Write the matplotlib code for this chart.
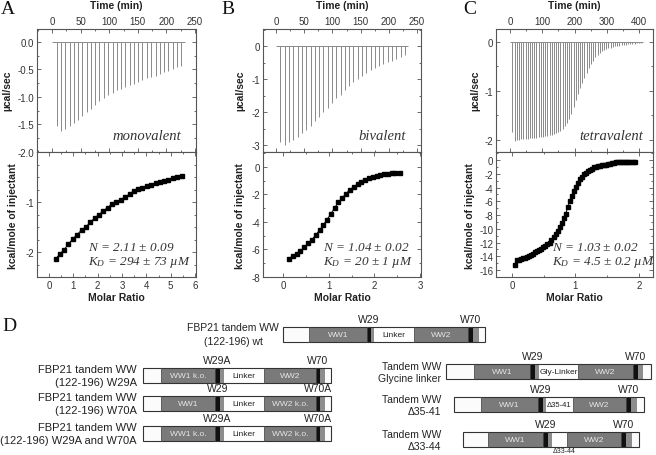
import matplotlib
matplotlib.use('Agg')
import matplotlib.pyplot as plt
from matplotlib.patches import Rectangle
from matplotlib.ticker import MultipleLocator, FormatStrFormatter, FixedLocator

plt.rcParams['font.family'] = ['Liberation Sans', 'DejaVu Sans']
plt.rcParams['axes.unicode_minus'] = False
plt.rcParams['mathtext.fontset'] = 'custom'
plt.rcParams['mathtext.it'] = 'Liberation Serif:italic'
plt.rcParams['mathtext.rm'] = 'Liberation Serif:italic'

# ---------------- data ----------------
a_time = [8, 16, 23, 31, 38, 46, 53, 61, 68, 76, 83, 91, 98, 106, 113, 121, 128, 136, 143, 151,
          158, 166, 173, 181, 188, 196, 203, 211, 218, 226]
a_peak = [-1.52, -1.62, -1.58, -1.53, -1.47, -1.41, -1.35, -1.28, -1.21, -1.14, -1.07, -1.02, -0.97,
          -0.92, -0.88, -0.85, -0.82, -0.79, -0.76, -0.73, -0.70, -0.66, -0.63, -0.61, -0.58, -0.55,
          -0.52, -0.49, -0.46, -0.43]
a_ratio = [0.27, 0.45, 0.63, 0.80, 0.98, 1.16, 1.34, 1.52, 1.70, 1.88, 2.06, 2.23, 2.41, 2.59, 2.77,
           2.95, 3.13, 3.31, 3.48, 3.66, 3.84, 4.02, 4.20, 4.38, 4.56, 4.73, 4.91, 5.09, 5.27, 5.45]
a_heat = [-2.14, -2.04, -1.95, -1.84, -1.74, -1.65, -1.56, -1.50, -1.40, -1.32, -1.25, -1.18, -1.11,
          -1.04, -1.00, -0.95, -0.90, -0.84, -0.78, -0.74, -0.71, -0.68, -0.66, -0.62, -0.60, -0.58,
          -0.55, -0.52, -0.50, -0.47]

b_time = [8.0, 15.6, 23.2, 30.8, 38.4, 46.0, 53.6, 61.2, 68.8, 76.4, 84.0, 91.6, 99.2, 106.8, 114.4,
          122.0, 129.6, 137.2, 144.8, 152.4, 160.0, 167.6, 175.2, 182.8, 190.4, 198.0, 205.6, 213.2,
          220.8, 228.4]
b_peak = [-2.90, -3.00, -2.92, -2.84, -2.74, -2.64, -2.54, -2.42, -2.28, -2.15, -2.00, -1.87, -1.72,
          -1.58, -1.48, -1.34, -1.22, -1.10, -0.99, -0.90, -0.82, -0.73, -0.66, -0.60, -0.54, -0.49,
          -0.44, -0.39, -0.33, -0.28]
b_ratio = [0.13, 0.21, 0.30, 0.38, 0.46, 0.55, 0.63, 0.71, 0.80, 0.88, 0.96, 1.05, 1.13, 1.21, 1.30,
           1.38, 1.46, 1.55, 1.63, 1.71, 1.80, 1.88, 1.96, 2.05, 2.13, 2.21, 2.30, 2.38, 2.46, 2.55]
b_heat = [-6.66, -6.48, -6.31, -6.09, -5.84, -5.56, -5.28, -4.96, -4.59, -4.23, -3.83, -3.39, -2.97,
          -2.57, -2.23, -1.93, -1.66, -1.45, -1.25, -1.07, -0.92, -0.80, -0.70, -0.62, -0.56, -0.51,
          -0.48, -0.45, -0.43, -0.41]

c_time = [8.0, 14.8, 21.5, 28.3, 35.0, 41.8, 48.5, 55.3, 62.0, 68.8, 75.5, 82.3, 89.0, 95.8, 102.5,
          109.3, 116.0, 122.8, 129.5, 136.3, 143.0, 149.8, 156.5, 163.3, 170.0, 176.8, 183.5, 190.3,
          197.0, 203.8, 210.5, 217.3, 224.0, 230.8, 237.5, 244.3, 251.0, 257.8, 264.5, 271.3, 278.0,
          284.8, 291.5, 298.3, 305.0, 311.8, 318.5, 325.3, 332.0, 338.8, 345.5, 352.3, 359.0, 365.8,
          372.5, 379.3, 386.0, 392.8, 399.5, 406.3]
c_peak = [-1.84, -2.03, -2.00, -1.99, -1.98, -1.98, -1.97, -1.97, -1.96, -1.96, -1.95, -1.95, -1.94,
          -1.93, -1.93, -1.92, -1.91, -1.90, -1.89, -1.88, -1.86, -1.84, -1.81, -1.77, -1.72, -1.65,
          -1.57, -1.46, -1.33, -1.19, -1.06, -0.94, -0.84, -0.74, -0.64, -0.54, -0.45, -0.38, -0.31,
          -0.26, -0.22, -0.19, -0.17, -0.15, -0.13, -0.12, -0.10, -0.09, -0.08, -0.08, -0.07, -0.06,
          -0.06, -0.05, -0.05, -0.04, -0.04, -0.03, -0.03, -0.03]
c_ratio = [0.050, 0.082, 0.114, 0.146, 0.177, 0.209, 0.241, 0.273, 0.305, 0.337, 0.369, 0.400, 0.432,
           0.464, 0.496, 0.528, 0.560, 0.592, 0.623, 0.655, 0.687, 0.719, 0.751, 0.783, 0.815, 0.846,
           0.878, 0.910, 0.942, 0.974, 1.006, 1.038, 1.069, 1.101, 1.133, 1.165, 1.197, 1.229, 1.261,
           1.292, 1.324, 1.356, 1.388, 1.420, 1.452, 1.484, 1.515, 1.547, 1.579, 1.611, 1.643, 1.675,
           1.707, 1.738, 1.770, 1.802, 1.834, 1.866, 1.898, 1.930]
c_heat = [-15.2, -14.6, -14.5, -14.4, -14.3, -14.2, -14.05, -13.9, -13.75, -13.6, -13.4, -13.2, -13.05,
          -12.9, -12.7, -12.5, -12.25, -12.0, -11.6, -11.25, -10.8, -10.3, -9.8, -9.2, -8.5, -7.8,
          -6.9, -6.0, -5.2, -4.5, -3.9, -3.3, -2.8, -2.4, -2.1, -1.85, -1.6, -1.4, -1.25, -1.05,
          -0.95, -0.9, -0.85, -0.8, -0.75, -0.7, -0.62, -0.55, -0.45, -0.38, -0.32, -0.28, -0.25,
          -0.25, -0.26, -0.27, -0.28, -0.3, -0.3, -0.32]

baseline_end = {'A': 232, 'B': 234, 'C': 412}
labels_valency = ['monovalent', 'bivalent', 'tetravalent']
fit_N = ['$N$ = 2.11 ± 0.09', '$N$ = 1.04 ± 0.02', '$N$ = 1.03 ± 0.02']
fit_KD = ['$K_D$ = 294 ± 73 µM', '$K_D$ = 20 ± 1 µM', '$K_D$ = 4.5 ± 0.2 µM']

# schematic constructs: (kind, width, label)
seg_wt = [('w', 26, ''), ('ww', 58, 'WW1'), ('trp', 4, ''), ('g', 3, ''), ('lk', 40, 'Linker'),
          ('ww', 54, 'WW2'), ('trp', 5, ''), ('g', 6, ''), ('w', 6, '')]
seg_w29a = [('w', 18, ''), ('ww', 54, 'WW1 k.o.'), ('trp', 5, ''), ('g', 4, ''), ('lk', 40, 'Linker'),
            ('ww', 52, 'WW2'), ('trp', 4, ''), ('g', 5, ''), ('w', 6, '')]
seg_w70a = [('w', 18, ''), ('ww', 54, 'WW1'), ('trp', 5, ''), ('g', 4, ''), ('lk', 40, 'Linker'),
            ('ww', 52, 'WW2 k.o.'), ('trp', 4, ''), ('g', 5, ''), ('w', 6, '')]
seg_dbl = [('w', 18, ''), ('ww', 54, 'WW1 k.o.'), ('trp', 5, ''), ('g', 4, ''), ('lk', 40, 'Linker'),
           ('ww', 52, 'WW2 k.o.'), ('trp', 4, ''), ('g', 5, ''), ('w', 6, '')]
seg_gly = [('w', 28, ''), ('ww', 56, 'WW1'), ('trp', 5, ''), ('g', 4, ''), ('lk', 39, 'Gly-Linker'),
           ('ww', 55, 'WW2'), ('trp', 5, ''), ('g', 5, ''), ('w', 8, '')]
seg_d3541 = [('w', 27, ''), ('ww', 57, 'WW1'), ('trp', 5, ''), ('g', 3, ''), ('lk', 27, 'Δ35-41'),
             ('ww', 53, 'WW2'), ('trp', 5, ''), ('g', 6, ''), ('w', 7, '')]
seg_d3344 = [('w', 25, ''), ('ww', 55, 'WW1'), ('trp', 5, ''), ('g', 4, ''), ('lk', 15, ''),
             ('ww', 54, 'WW2'), ('trp', 5, ''), ('g', 6, ''), ('w', 7, '')]

W, H = 656, 456
fig = plt.figure(figsize=(W / 100, H / 100), dpi=100)


def fpos(l, r, t, b):
    return [l / W, 1 - b / H, (r - l) / W, (b - t) / H]


def ftext(x, y, s, **kw):
    return fig.text(x / W, 1 - y / H, s, **kw)


# ------------- schematic axes (pixel space) -------------
axd = fig.add_axes([0, 0, 1, 1])
axd.set_xlim(0, W)
axd.set_ylim(H, 0)
axd.axis('off')

colors = {'w': '#fbfbfb', 'ww': '#7a7a7a', 'trp': '#111111', 'g': '#8c8c8c', 'lk': '#fdfdfd'}


def draw_construct(x0, top, segs, lab29, lab70, h=15):
    x = x0
    centers = {}
    for i, (kind, w, lab) in enumerate(segs):
        axd.add_patch(Rectangle((x, top), w, h, facecolor=colors[kind], edgecolor='none'))
        if kind in ('lk', 'ww') or (kind == 'w' and i == 0):
            axd.plot([x + w, x + w], [top, top + h], color='#555555', lw=0.5)
        if lab:
            col = '#e6e6e6' if kind == 'ww' else '#222222'
            fs = 5.5 if lab.startswith('Δ') else 6
            axd.text(x + w / 2, top + h / 2 + 0.5, lab, ha='center', va='center', fontsize=fs, color=col)
        if kind == 'trp':
            centers.setdefault('trp', []).append(x + w / 2)
        x += w
    axd.add_patch(Rectangle((x0, top), x - x0, h, facecolor='none', edgecolor='#333333', lw=0.8))
    t1, t2 = centers['trp']
    axd.text(t1, top - 8, lab29, ha='center', va='center', fontsize=7.5, color='#222222')
    axd.text(t2, top - 8, lab70, ha='center', va='center', fontsize=7.5, color='#222222')
    return x


draw_construct(283, 328, seg_wt, 'W29', 'W70')
axd.text(233, 335, 'FBP21 tandem WW\n(122-196) wt', ha='center', va='center', fontsize=7.5,
         linespacing=1.45, multialignment='center', color='#222222')

for top, segs, l29, l70, name in [
        (369, seg_w29a, 'W29A', 'W70', 'FBP21 tandem WW\n(122-196) W29A'),
        (397, seg_w70a, 'W29', 'W70A', 'FBP21 tandem WW\n(122-196) W70A'),
        (427, seg_dbl, 'W29A', 'W70A', 'FBP21 tandem WW\n(122-196) W29A and W70A')]:
    draw_construct(143, top, segs, l29, l70)
    axd.text(137, top + 7.5, name, ha='right', va='center', fontsize=8, linespacing=1.35,
             multialignment='right', color='#222222')

for x0, top, segs, name in [
        (446, 365, seg_gly, 'Tandem WW\nGlycine linker'),
        (454, 398, seg_d3541, 'Tandem WW\nΔ35-41'),
        (463, 433, seg_d3344, 'Tandem WW\nΔ33-44')]:
    draw_construct(x0, top, segs, 'W29', 'W70')
    axd.text(441, top + 8, name, ha='right', va='center', fontsize=7.5, linespacing=1.25,
             multialignment='right', color='#222222')
axd.text(564, 455, 'Δ33-44', ha='center', va='bottom', fontsize=5, color='#222222')

# ------------- ITC panels -------------
panels = [
    dict(key='A', l=37, r=196, time=a_time, peak=a_peak, ratio=a_ratio, heat=a_heat,
         txlim=(-26.2, 251.7), txmaj=50, txmin=25, tylim=(-2.0, 0.236), tyt=[0.0, -0.5, -1.0, -1.5, -2.0],
         tymin=0.25, tfmt='%.1f', bxlim=(-0.49, 6.04), bxmin=0.5, bylim=(-2.5, 0), byt=[-1, -2], bymin=0.25,
         ylab1=7, ylab2=13, letter_x=8, tx=112, nx=88),
    dict(key='B', l=263, r=421, time=b_time, peak=b_peak, ratio=b_ratio, heat=b_heat,
         txlim=(-23, 257), txmaj=50, txmin=25, tylim=(-3.21, 0.52), tyt=[0, -1, -2, -3],
         tymin=0.5, tfmt='%d', bxlim=(-0.44, 3.02), bxmin=0.5, bylim=(-8, 1.09), byt=[0, -2, -4, -6, -8],
         bymin=1, ylab1=240, ylab2=240, letter_x=228, tx=358, nx=323),
    dict(key='C', l=496, r=653, time=c_time, peak=c_peak, ratio=c_ratio, heat=c_heat,
         txlim=(-43, 443), txmaj=100, txmin=50, tylim=(-2.245, 0.265), tyt=[0, -1, -2],
         tymin=0.5, tfmt='%d', bxlim=(-0.25, 2.22), bxmin=0.5, bylim=(-17, 1.16),
         byt=[0, -2, -4, -6, -8, -10, -12, -14, -16], bymin=1, ylab1=475, ylab2=470, letter_x=470, tx=579, nx=552),
]

spine_col = '#555555'
for i, p in enumerate(panels):
    axt = fig.add_axes(fpos(p['l'], p['r'], 30, 153))
    axb = fig.add_axes(fpos(p['l'], p['r'], 153, 278))
    for ax in (axt, axb):
        for s in ax.spines.values():
            s.set_color(spine_col)
            s.set_linewidth(0.8)
        ax.tick_params(which='both', direction='in', top=True, right=True, bottom=True, left=True,
                       width=0.6, color=spine_col, labelsize=7, labelcolor='#333333', pad=2)
        ax.tick_params(which='major', length=3)
        ax.tick_params(which='minor', length=1.6)
    axt.tick_params(labeltop=True, labelbottom=False)

    # raw thermogram
    axt.hlines(0, 0, baseline_end[p['key']], color='#8a8a8a', lw=0.7)
    axt.vlines(p['time'], p['peak'], 0, color='#8a8a8a', lw=0.7)
    axt.set_xlim(*p['txlim'])
    axt.set_ylim(*p['tylim'])
    axt.xaxis.set_major_locator(MultipleLocator(p['txmaj']))
    axt.xaxis.set_minor_locator(MultipleLocator(p['txmin']))
    axt.yaxis.set_major_locator(FixedLocator(p['tyt']))
    axt.yaxis.set_minor_locator(MultipleLocator(p['tymin']))
    axt.yaxis.set_major_formatter(FormatStrFormatter(p['tfmt']))

    # integrated heats
    axb.plot(p['ratio'], p['heat'], color='black', lw=0.7, marker='s', ms=3.2, mec='black', mfc='black')
    axb.set_xlim(*p['bxlim'])
    axb.set_ylim(*p['bylim'])
    axb.xaxis.set_major_locator(MultipleLocator(1))
    axb.xaxis.set_minor_locator(MultipleLocator(p['bxmin']))
    axb.yaxis.set_major_locator(FixedLocator(p['byt']))
    axb.yaxis.set_minor_locator(MultipleLocator(p['bymin']))
    axb.yaxis.set_major_formatter(FormatStrFormatter('%d'))

    cx = (p['l'] + p['r']) / 2
    ftext(cx, 6, 'Time (min)', ha='center', va='center', fontsize=7.5, fontweight='bold', color='#222222')
    ftext(cx, 298, 'Molar Ratio', ha='center', va='center', fontsize=7.5, fontweight='bold', color='#222222')
    ftext(p['ylab1'], 91, 'µcal/sec', ha='center', va='center', rotation=90, fontsize=7.5,
          fontweight='bold', color='#222222')
    ftext(p['ylab2'], 216, 'kcal/mole of injectant', ha='center', va='center', rotation=90, fontsize=7.5,
          fontweight='bold', color='#222222')
    ftext(p['letter_x'], 9, p['key'], ha='center', va='center', fontsize=14, family='Liberation Serif',
          color='#111111')
    ftext(p['tx'], 137, labels_valency[i], ha='left', va='center', fontsize=10.5,
          family='Liberation Serif', style='italic', color='#333333')
    ftext(p['nx'], 248, fit_N[i], ha='left', va='center', fontsize=9.5,
          family='Liberation Serif', style='italic', color='#333333')
    ftext(p['nx'], 263, fit_KD[i], ha='left', va='center', fontsize=9.5,
          family='Liberation Serif', style='italic', color='#333333')

ftext(2, 327, 'D', ha='left', va='center', fontsize=14, family='Liberation Serif', color='#111111')

fig.savefig('out.png', dpi=100, facecolor='white')
